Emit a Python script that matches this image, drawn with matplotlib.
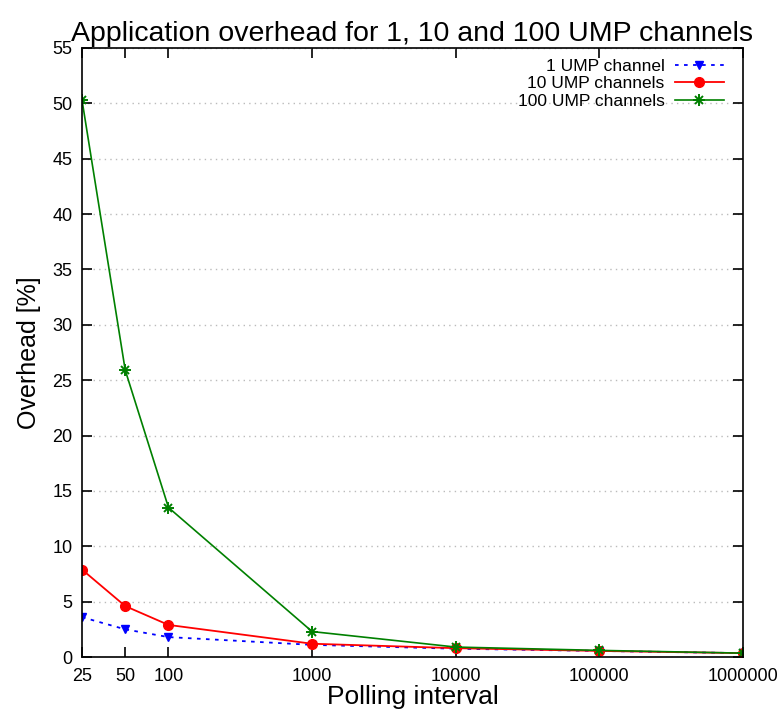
import numpy as np
import matplotlib.pyplot as plt

plt.rcParams['font.family'] = ['Liberation Sans', 'DejaVu Sans']

intervals = [25, 50, 100, 1000, 10000, 100000, 1000000]
tick_labels = ["25", "50", "100", "1000", "10000", "100000", "1000000"]
one_channel = [3.6, 2.5, 1.8, 1.1, 0.75, 0.55, 0.35]
ten_channels = [7.9, 4.6, 2.9, 1.2, 0.8, 0.55, 0.35]
hundred_channels = [50.3, 25.9, 13.5, 2.3, 0.9, 0.6, 0.35]
labels = ["1 UMP channel", "10 UMP channels", "100 UMP channels"]

fig = plt.figure(figsize=(7.78, 7.13), dpi=100)
ax = fig.add_axes([0.1054, 0.0785, 0.8496, 0.8542])

l1, = ax.plot(intervals, one_channel, color="blue", linestyle=(0, (2, 3)), linewidth=1.3,
              marker="v", markersize=6)
l2, = ax.plot(intervals, ten_channels, color="red", linewidth=1.3,
              marker="o", markersize=7)
l3, = ax.plot(intervals, hundred_channels, color="green", linewidth=1.2,
              marker="x", markersize=6, markeredgewidth=1.4)
# plus markers on top of the x to get gnuplot's asterisk
l4, = ax.plot(intervals, hundred_channels, color="green", linestyle="none",
              marker="+", markersize=8, markeredgewidth=1.4)

ax.set_xscale("log")
ax.set_xlim(25, 1000000)
ax.set_ylim(0, 55)
ax.set_xticks(intervals)
ax.set_xticklabels(tick_labels)
ax.xaxis.set_minor_locator(plt.NullLocator())
ax.set_yticks(np.arange(0, 56, 5))
ax.tick_params(direction="in", top=True, right=True, length=7, width=1.2, labelsize=13)
ax.tick_params(axis="x", pad=8)
ax.tick_params(axis="y", pad=7)
ax.yaxis.grid(True, color="#bbbbbb", linestyle=(0, (1, 3)), linewidth=1)
for s in ax.spines.values():
    s.set_linewidth(1.2)

ax.set_title("Application overhead for 1, 10 and 100 UMP channels", fontsize=20.5, pad=5)
ax.set_xlabel("Polling interval", fontsize=19, labelpad=0)
ax.set_ylabel("Overhead [%]", fontsize=18, labelpad=8)
ax.legend([l1, l2, (l3, l4)], labels, loc="upper right", bbox_to_anchor=(0.976, 0.9885),
          frameon=False, markerfirst=False, fontsize=12.5, handlelength=2.8,
          handletextpad=0.6, labelspacing=0.15, borderaxespad=0.0, borderpad=0.2)

fig.savefig("out.png", dpi=100)
